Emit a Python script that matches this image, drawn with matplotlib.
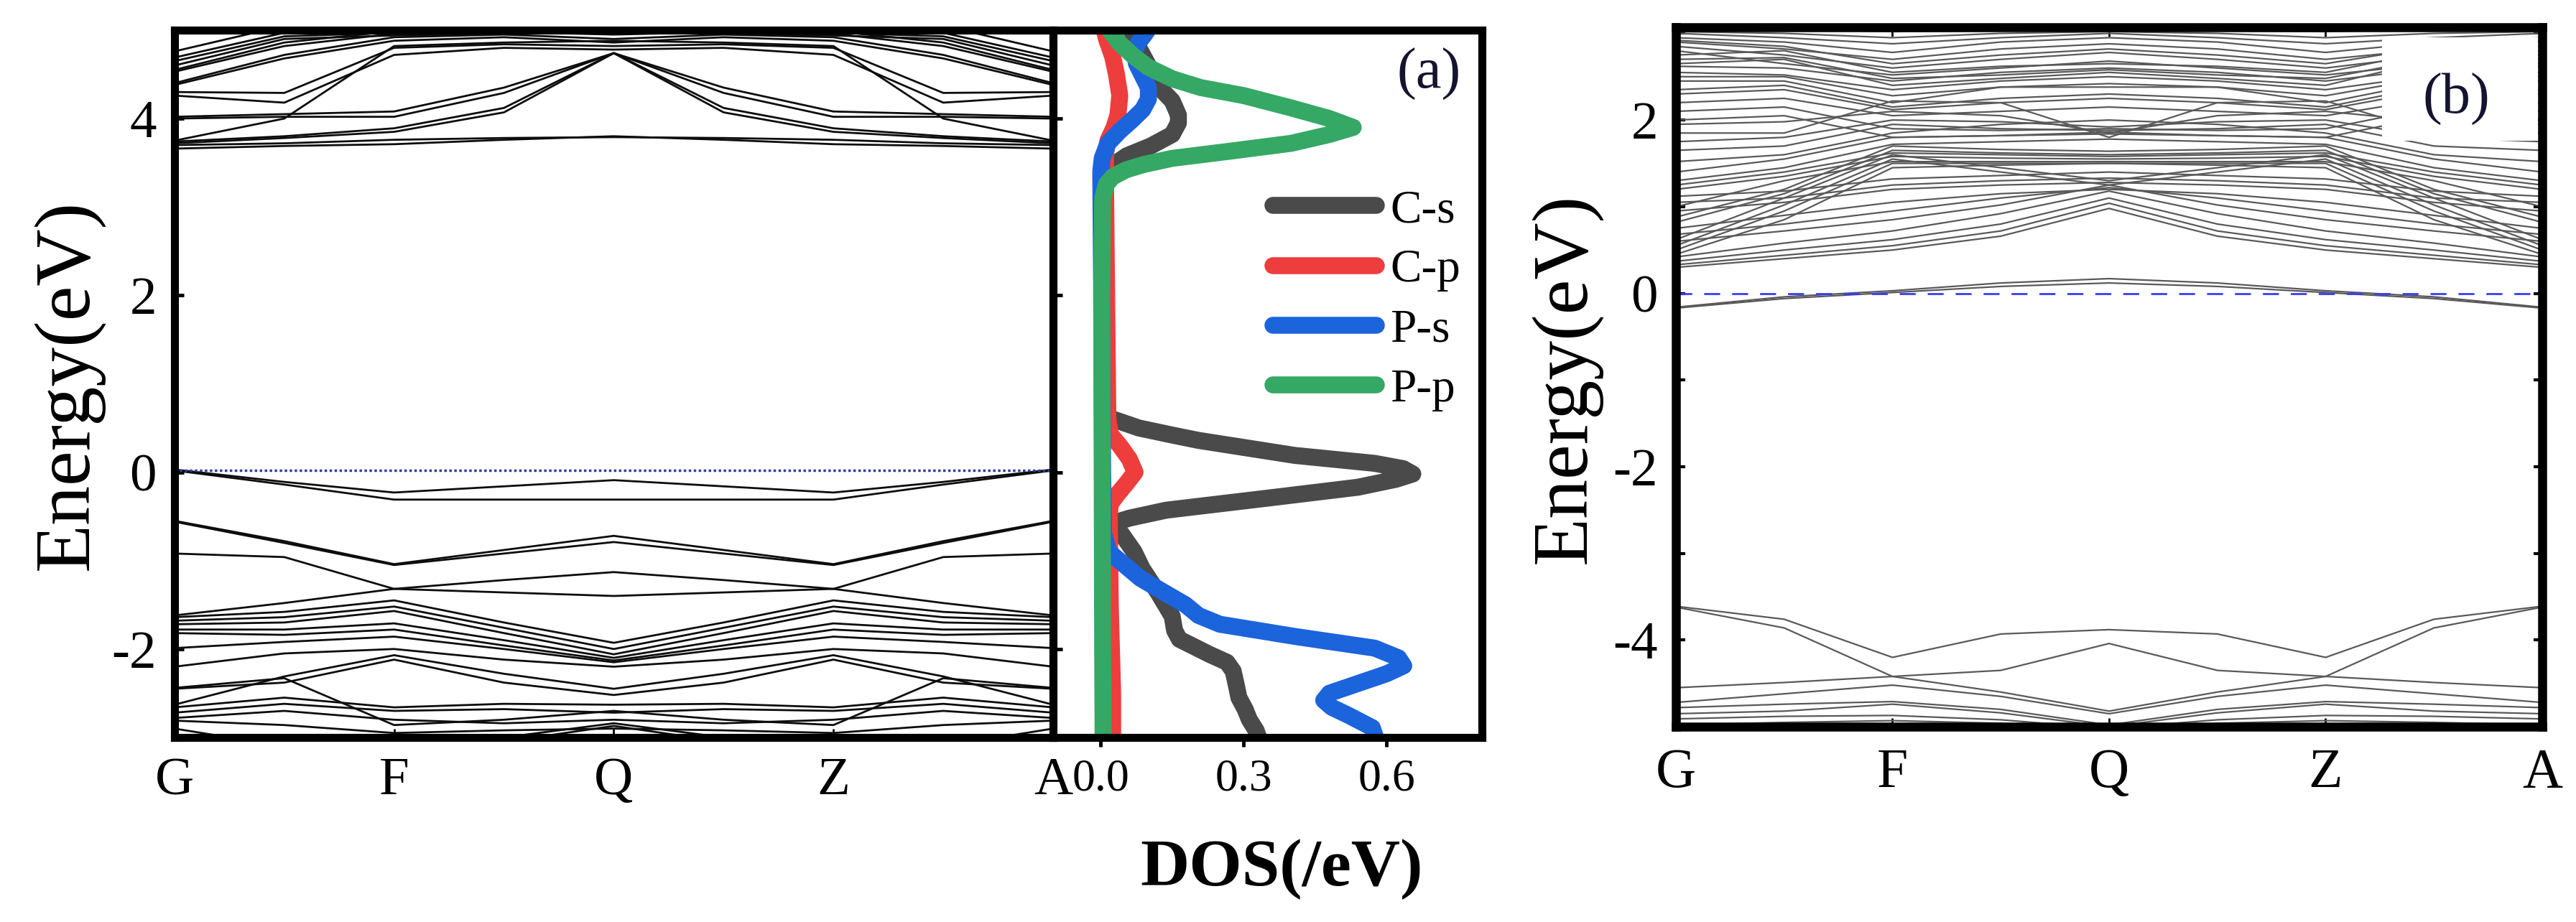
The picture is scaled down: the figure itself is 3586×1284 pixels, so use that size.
import numpy as np
import matplotlib.pyplot as plt
from matplotlib.patches import Rectangle

plt.rcParams['font.family'] = ['Liberation Serif', 'DejaVu Serif']
plt.rcParams['axes.unicode_minus'] = False

# k-path (G F Q Z A) sampled at the kink points
kpath = [0, 0.5, 1, 1.5, 2, 2.5, 3, 3.5, 4]
klabels = ['G', 'F', 'Q', 'Z', 'A']
kticks = [0, 1, 2, 3, 4]

# ---- panel (a): bands ----
a_cond = [
    [3.66, 3.69, 3.71, 3.76, 3.80, 3.76, 3.71, 3.69, 3.66],
    [3.70, 3.72, 3.76, 3.78, 3.79, 3.78, 3.76, 3.72, 3.70],
    [3.72, 3.78, 3.85, 4.07, 4.74, 4.07, 3.85, 3.78, 3.72],
    [3.74, 3.80, 3.89, 4.12, 4.74, 4.12, 3.89, 3.80, 3.74],
    [3.75, 4.00, 4.82, 4.86, 4.88, 4.86, 4.82, 4.00, 3.75],
    [4.00, 4.02, 4.02, 4.29, 4.74, 4.29, 4.02, 4.02, 4.00],
    [4.02, 4.05, 4.08, 4.35, 4.74, 4.35, 4.08, 4.05, 4.02],
    [4.26, 4.18, 4.72, 4.80, 4.78, 4.80, 4.72, 4.18, 4.26],
    [4.30, 4.29, 4.80, 4.84, 4.82, 4.84, 4.80, 4.29, 4.30],
    [4.38, 4.68, 4.88, 4.92, 4.86, 4.92, 4.88, 4.68, 4.38],
    [4.40, 4.72, 4.92, 4.95, 4.90, 4.95, 4.92, 4.72, 4.40],
    [4.53, 4.82, 4.96, 4.98, 4.95, 4.98, 4.96, 4.82, 4.53],
    [4.55, 4.86, 4.99, 5.02, 5.00, 5.02, 4.99, 4.86, 4.55],
    [4.60, 4.90, 4.94, 4.96, 4.97, 4.96, 4.94, 4.90, 4.60],
    [4.65, 4.93, 4.97, 4.99, 4.98, 4.99, 4.97, 4.93, 4.65],
    [4.69, 4.97, 5.05, 5.08, 5.05, 5.08, 5.05, 4.97, 4.69],
    [4.76, 5.05, 5.10, 5.12, 5.10, 5.12, 5.10, 5.05, 4.76],
]
a_val = [
    [0.03, -0.11, -0.23, -0.16, -0.09, -0.16, -0.23, -0.11, 0.03],
    [0.02, -0.14, -0.31, -0.31, -0.31, -0.31, -0.31, -0.14, 0.02],
    [-0.55, -0.78, -1.04, -0.88, -0.72, -0.88, -1.04, -0.78, -0.55],
    [-0.56, -0.80, -1.05, -0.92, -0.79, -0.92, -1.05, -0.80, -0.56],
    [-0.92, -0.96, -1.32, -1.22, -1.13, -1.22, -1.32, -0.96, -0.92],
    [-1.62, -1.48, -1.32, -1.36, -1.40, -1.36, -1.32, -1.48, -1.62],
    [-1.64, -1.58, -1.45, -1.70, -1.93, -1.70, -1.45, -1.58, -1.64],
    [-1.68, -1.64, -1.52, -1.76, -2.00, -1.76, -1.52, -1.64, -1.68],
    [-1.72, -1.70, -1.57, -1.82, -2.06, -1.82, -1.57, -1.70, -1.72],
    [-1.78, -1.78, -1.71, -1.90, -2.10, -1.90, -1.71, -1.78, -1.78],
    [-1.82, -1.84, -1.78, -1.96, -2.13, -1.96, -1.78, -1.84, -1.82],
    [-1.99, -1.92, -1.86, -2.00, -2.15, -2.00, -1.86, -1.92, -1.99],
    [-2.20, -2.05, -2.00, -2.12, -2.20, -2.12, -2.00, -2.05, -2.20],
    [-2.63, -2.31, -2.07, -2.28, -2.45, -2.28, -2.07, -2.31, -2.63],
    [-2.44, -2.33, -2.86, -2.80, -2.70, -2.80, -2.86, -2.33, -2.44],
    [-2.45, -2.38, -2.12, -2.38, -2.52, -2.38, -2.12, -2.38, -2.45],
    [-2.66, -2.55, -2.66, -2.62, -2.63, -2.62, -2.66, -2.55, -2.66],
    [-2.72, -2.62, -2.70, -2.68, -2.72, -2.68, -2.70, -2.62, -2.72],
    [-2.78, -2.70, -2.80, -2.84, -2.80, -2.84, -2.80, -2.70, -2.78],
    [-2.81, -2.86, -2.95, -2.92, -2.90, -2.92, -2.95, -2.86, -2.81],
    [-2.90, -3.10, -3.20, -3.00, -2.84, -3.00, -3.20, -3.10, -2.90],
    [-3.00, -3.10, -3.15, -3.05, -2.87, -3.05, -3.15, -3.10, -3.00],
]

# ---- panel (a): projected DOS (energy, states/eV) ----
e_cs = [5.05, 4.8, 4.6, 4.45, 4.34, 4.2, 4.04, 3.95, 3.82, 3.69, 3.58, 3.47, 3.35, 3.2,
        2.0, 0.8, 0.62, 0.5, 0.42, 0.36, 0.28, 0.19, 0.10, 0.04, -0.02, -0.08, -0.17,
        -0.30, -0.43, -0.52, -0.57, -0.62, -0.70, -0.90, -1.09, -1.36, -1.63, -1.79,
        -1.89, -2.06, -2.15, -2.25, -2.42, -2.55, -2.68, -2.80, -2.92, -3.05]
d_cs = [0.06, 0.08, 0.10, 0.115, 0.125, 0.15, 0.163, 0.163, 0.15, 0.105, 0.055, 0.025, 0.012, 0.008,
        0.006, 0.008, 0.015, 0.08, 0.15, 0.205, 0.30, 0.407, 0.575, 0.635, 0.655, 0.62, 0.54,
        0.34, 0.137, 0.06, 0.03, 0.03, 0.044, 0.07, 0.087, 0.12, 0.15, 0.155,
        0.165, 0.228, 0.265, 0.278, 0.285, 0.29, 0.303, 0.312, 0.326, 0.335]

e_cp = [5.05, 4.9, 4.7, 4.5, 4.26, 4.04, 3.9, 3.75, 3.6, 3.3, 0.6, 0.43, 0.3, 0.15, 0.0,
        -0.12, -0.25, -0.36, -0.5, -1.5, -2.5, -3.05]
d_cp = [0.005, 0.012, 0.025, 0.033, 0.04, 0.036, 0.028, 0.015, 0.01, 0.01, 0.015, 0.02, 0.04,
        0.06, 0.072, 0.055, 0.035, 0.02, 0.018, 0.02, 0.025, 0.025]

e_ps = [5.05, 4.95, 4.85, 4.75, 4.62, 4.48, 4.35, 4.22, 4.10, 3.98, 3.86, 3.72, 3.55, 3.4,
        2.0, 0.0, -0.7, -0.90, -1.05, -1.20, -1.35, -1.50, -1.62, -1.72, -1.86, -1.99,
        -2.10, -2.19, -2.28, -2.39, -2.50, -2.58, -2.66, -2.75, -2.89, -3.05]
d_ps = [0.105, 0.092, 0.078, 0.07, 0.075, 0.088, 0.10, 0.10, 0.088, 0.065, 0.04, 0.015, 0.003, 0.0,
        0.002, 0.004, 0.006, 0.017, 0.05, 0.083, 0.13, 0.178, 0.205, 0.25, 0.41, 0.575,
        0.625, 0.636, 0.60, 0.54, 0.48, 0.468, 0.485, 0.52, 0.57, 0.58]

e_pp = [5.05, 4.99, 4.85, 4.71, 4.58, 4.45, 4.35, 4.26, 4.12, 4.0, 3.90, 3.82, 3.72, 3.63,
        3.55, 3.48, 3.42, 3.34, 3.26, 3.1, 2.0, 0.0, -2.0, -3.05]
d_pp = [0.015, 0.02, 0.04, 0.068, 0.10, 0.15, 0.21, 0.30, 0.40, 0.48, 0.53, 0.48, 0.40, 0.27,
        0.15, 0.09, 0.053, 0.025, 0.012, 0.004, 0.002, 0.003, 0.004, 0.005]

dos_names = ['C-s', 'C-p', 'P-s', 'P-p']
dos_colors = ['#4a4a4a', '#ee3d3d', '#1b64dc', '#35a865']

# ---- panel (b): bands ----
b_cond = [
    [0.30, 0.40, 0.50, 0.66, 0.98, 0.66, 0.50, 0.40, 0.30],
    [0.33, 0.44, 0.55, 0.72, 1.04, 0.72, 0.55, 0.44, 0.33],
    [0.37, 0.50, 0.62, 0.80, 1.10, 0.80, 0.62, 0.50, 0.37],
    [0.42, 0.58, 0.72, 0.92, 1.18, 0.92, 0.72, 0.58, 0.42],
    [0.60, 0.72, 0.85, 1.02, 1.25, 1.02, 0.85, 0.72, 0.60],
    [0.68, 0.80, 0.95, 1.10, 1.22, 1.10, 0.95, 0.80, 0.68],
    [0.75, 0.90, 1.05, 1.15, 1.20, 1.15, 1.05, 0.90, 0.75],
    [0.45, 0.85, 1.45, 1.48, 1.50, 1.48, 1.45, 0.85, 0.45],
    [0.50, 0.95, 1.50, 1.50, 1.50, 1.50, 1.50, 0.95, 0.50],
    [0.55, 1.02, 1.55, 1.40, 1.25, 1.40, 1.55, 1.02, 0.55],
    [0.62, 1.10, 1.60, 1.45, 1.30, 1.45, 1.60, 1.10, 0.62],
    [0.82, 1.15, 1.65, 1.62, 1.60, 1.62, 1.65, 1.15, 0.82],
    [0.88, 1.20, 1.70, 1.66, 1.64, 1.66, 1.70, 1.20, 0.88],
    [0.95, 1.05, 1.20, 1.25, 1.28, 1.25, 1.20, 1.05, 0.95],
    [1.00, 1.30, 1.52, 1.52, 1.52, 1.52, 1.52, 1.30, 1.00],
    [1.05, 1.10, 1.25, 1.30, 1.33, 1.30, 1.25, 1.10, 1.05],
    [1.12, 1.18, 1.32, 1.36, 1.40, 1.36, 1.32, 1.18, 1.12],
    [1.20, 1.35, 1.58, 1.56, 1.55, 1.56, 1.58, 1.35, 1.20],
    [1.25, 1.40, 1.62, 1.60, 1.58, 1.60, 1.62, 1.40, 1.25],
    [1.30, 1.45, 1.72, 1.75, 1.78, 1.75, 1.72, 1.45, 1.30],
    [1.40, 1.55, 1.80, 1.82, 1.84, 1.82, 1.80, 1.55, 1.40],
    [1.52, 1.60, 1.85, 1.95, 2.00, 1.95, 1.85, 1.60, 1.52],
    [1.65, 1.70, 1.95, 1.90, 1.88, 1.90, 1.95, 1.70, 1.65],
    [1.75, 1.80, 2.00, 1.98, 1.92, 1.98, 2.00, 1.80, 1.75],
    [1.85, 1.85, 2.22, 2.20, 1.80, 2.20, 2.22, 1.85, 1.85],
    [1.95, 1.98, 2.10, 2.05, 1.85, 2.05, 2.10, 1.98, 1.95],
    [2.00, 2.05, 1.80, 1.82, 1.86, 1.82, 1.80, 2.05, 2.00],
    [2.10, 2.15, 1.90, 1.88, 1.90, 1.88, 1.90, 2.15, 2.10],
    [2.20, 2.25, 2.05, 2.10, 2.15, 2.10, 2.05, 2.25, 2.20],
    [2.30, 2.35, 2.12, 2.20, 2.25, 2.20, 2.12, 2.35, 2.30],
    [2.35, 2.40, 2.15, 2.25, 2.30, 2.25, 2.15, 2.40, 2.35],
    [2.45, 2.45, 2.20, 2.38, 2.38, 2.38, 2.20, 2.45, 2.45],
    [2.50, 2.50, 2.28, 2.38, 2.42, 2.38, 2.28, 2.50, 2.50],
    [2.55, 2.52, 2.35, 2.45, 2.50, 2.45, 2.35, 2.52, 2.55],
    [2.62, 2.60, 2.45, 2.55, 2.60, 2.55, 2.45, 2.60, 2.62],
    [2.65, 2.70, 2.40, 2.48, 2.55, 2.48, 2.40, 2.70, 2.65],
    [2.70, 2.72, 2.48, 2.52, 2.58, 2.52, 2.48, 2.72, 2.70],
    [2.75, 2.80, 2.55, 2.62, 2.65, 2.62, 2.55, 2.80, 2.75],
    [2.80, 2.65, 2.52, 2.60, 2.68, 2.60, 2.52, 2.65, 2.80],
    [2.85, 2.75, 2.60, 2.70, 2.78, 2.70, 2.60, 2.75, 2.85],
    [2.90, 2.82, 2.70, 2.82, 2.88, 2.82, 2.70, 2.82, 2.90],
    [2.92, 2.85, 2.65, 2.75, 2.82, 2.75, 2.65, 2.85, 2.92],
    [2.95, 2.90, 2.78, 2.90, 2.95, 2.90, 2.78, 2.90, 2.95],
    [3.00, 2.95, 2.88, 2.95, 3.00, 2.95, 2.88, 2.95, 3.00],
    [3.02, 3.00, 2.95, 3.00, 3.02, 3.00, 2.95, 3.00, 3.02],
    [3.05, 3.05, 3.02, 3.03, 3.05, 3.03, 3.02, 3.05, 3.05],
]
b_val = [
    [-0.16, -0.04, 0.03, 0.12, 0.17, 0.12, 0.03, -0.04, -0.16],
    [-0.17, -0.06, 0.01, 0.08, 0.12, 0.08, 0.01, -0.06, -0.17],
    [-3.61, -3.76, -4.20, -3.93, -3.88, -3.93, -4.20, -3.76, -3.61],
    [-3.62, -3.86, -4.42, -4.35, -4.04, -4.35, -4.42, -3.86, -3.62],
    [-4.55, -4.49, -4.42, -4.60, -4.82, -4.60, -4.42, -4.49, -4.55],
    [-4.72, -4.62, -4.52, -4.65, -4.85, -4.65, -4.52, -4.62, -4.72],
    [-4.78, -4.74, -4.71, -4.80, -4.98, -4.80, -4.71, -4.74, -4.78],
    [-4.85, -4.82, -4.74, -4.84, -5.00, -4.84, -4.74, -4.82, -4.85],
    [-4.91, -4.88, -4.87, -4.92, -5.02, -4.92, -4.87, -4.88, -4.91],
    [-4.98, -4.95, -4.93, -4.96, -5.05, -4.96, -4.93, -4.95, -4.98],
]

fig = plt.figure(figsize=(35.87, 12.84), dpi=100)
ax_a = fig.add_axes([0.0677, 0.2002, 0.3410, 0.7671])
ax_d = fig.add_axes([0.4087, 0.2002, 0.1664, 0.7671])
ax_b = fig.add_axes([0.6504, 0.2118, 0.3362, 0.7586])

# (a) band structure
for band in a_cond + a_val:
    ax_a.plot(kpath, band, color='0.05', lw=2.0)
ax_a.axhline(0.02, color='#2b3f9e', ls=(0, (1, 1)), lw=2.5)
ax_a.set_xlim(0, 4)
ax_a.set_ylim(-3, 5)
ax_a.set_xticks(kticks)
ax_a.set_xticklabels(klabels)
ax_a.set_yticks([-2, 0, 2, 4])
ax_a.tick_params(axis='y', direction='in', length=9, width=3.5, labelsize=54, pad=18)
ax_a.tick_params(axis='x', direction='in', length=9, width=2, labelsize=54, pad=20)
for s in ax_a.spines.values():
    s.set_linewidth(8)

# DOS panel
dos_e = [e_cs, e_cp, e_ps, e_pp]
dos_d = [d_cs, d_cp, d_ps, d_pp]
for name, col, ee, dd in zip(dos_names, dos_colors, dos_e, dos_d):
    ax_d.plot(dd, ee, color=col, lw=17, label=name,
              solid_capstyle='round', solid_joinstyle='round')
ax_d.set_xlim(-0.1, 0.8)
ax_d.set_ylim(-3, 5)
ax_d.set_xticks([0, 0.3, 0.6])
ax_d.set_xticklabels(['0.0', '0.3', '0.6'])
ax_d.set_yticks([-2, 0, 2, 4])
ax_d.set_yticklabels([])
ax_d.tick_params(axis='y', direction='in', length=9, width=3.5)
ax_d.tick_params(axis='x', direction='out', length=9, width=3.5, labelsize=46, pad=12)
for s in ax_d.spines.values():
    s.set_linewidth(8)
ax_d.legend(loc='upper left', bbox_to_anchor=(0.513, 0.775), frameon=False, fontsize=47,
            handlelength=2.2, handletextpad=0.3, labelspacing=0.36,
            borderaxespad=0, borderpad=0)
ax_d.text(0.876, 0.938, '(a)', transform=ax_d.transAxes, fontsize=58,
          ha='center', va='center', color='#141430')

# (b) band structure
for band in b_cond + b_val:
    ax_b.plot(kpath, band, color='0.35', lw=1.6)
ax_b.axhline(0, color='#3a3aff', ls=(0, (8, 6)), lw=2)
ax_b.set_xlim(0, 4)
ax_b.set_ylim(-5, 3.07)
ax_b.set_xticks(kticks)
ax_b.set_xticklabels(klabels)
ax_b.set_yticks([-4, -2, 0, 2])
ax_b.set_yticks([-5, -3, -1, 1, 3], minor=True)
ax_b.tick_params(axis='y', which='both', direction='in', length=9, width=3,
                 labelsize=54, pad=18, right=True)
ax_b.tick_params(axis='x', direction='in', length=9, width=2, labelsize=56,
                 pad=21, top=True)
for s in ax_b.spines.values():
    s.set_linewidth(9)
ax_b.add_patch(Rectangle((0.815, 0.838), 0.18, 0.148, transform=ax_b.transAxes,
                         facecolor='white', edgecolor='none', zorder=3))
ax_b.text(0.901, 0.897, '(b)', transform=ax_b.transAxes, fontsize=58,
          ha='center', va='center', zorder=4, color='#141430')

fig.text(0.0268, 0.583, 'Energy(eV)', rotation=90, fontsize=79, ha='center', va='center')
fig.text(0.608, 0.5896, 'Energy(eV)', rotation=90, fontsize=79, ha='center', va='center')
fig.text(0.4973, 0.057, 'DOS(/eV)', fontweight='bold', fontsize=68, ha='center', va='center')

fig.savefig('out.png', dpi=100)
